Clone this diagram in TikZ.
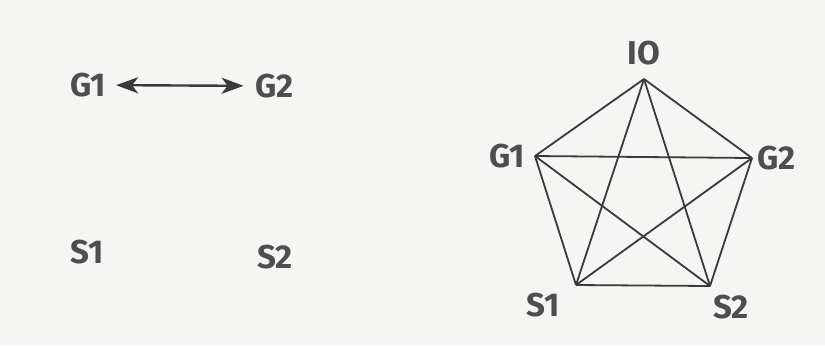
\documentclass[tikz,border=0pt]{standalone}
\usepackage{fontspec}
\setmainfont{Fira Sans}
\usetikzlibrary{positioning, arrows.meta}
\definecolor{paper}{HTML}{F5F5F3}
\definecolor{ink}{HTML}{3A3A3A}

\begin{document}
\begin{tikzpicture}[
        x=0.5pt, y=-0.5pt,
        font=\fontsize{16.5}{19}\selectfont\bfseries,
        tag/.style={inner sep=0pt, text=ink!90},
        corner/.style={inner sep=0pt, minimum size=0pt, outer sep=0pt},
        link/.style={draw=ink, line width=0.9pt},
        arrow/.style={{Stealth[length=11pt, width=8pt, inset=3pt]}-{Stealth[length=11pt, width=8pt, inset=3pt]}, draw=ink, line width=1.2pt, shorten <=5pt, shorten >=6pt}
    ]

    \fill [paper] (0,0) rectangle (825,345);

    \node (g1) [tag] at (88,85) {G1};
    \node (g2) [tag] at (275,86) {G2};
    \node (s1) [tag] at (87,252) {S1};
    \node (s2) [tag] at (275,257) {S2};

    \draw [arrow] (g1) -- (g2);

    \node (io) [corner] at (644,79) {};
    \node (rg1) [corner] at (535,156) {};
    \node (rg2) [corner] at (752,158) {};
    \node (rs1) [corner] at (576,285) {};
    \node (rs2) [corner] at (710,286) {};

    \node (iolabel) [tag, above=7pt of io] {IO};
    \node (rg1label) [tag, left=5pt of rg1] {G1};
    \node (rg2label) [tag, right=2.5pt of rg2] {G2};
    \node (rs1label) [tag, below left=4pt and 8pt of rs1] {S1};
    \node (rs2label) [tag, below right=4.5pt and 1.5pt of rs2] {S2};

    \draw [link] (io) -- (rg1);
    \draw [link] (io) -- (rg2);
    \draw [link] (io) -- (rs1);
    \draw [link] (io) -- (rs2);
    \draw [link] (rg1) -- (rg2);
    \draw [link] (rg1) -- (rs1);
    \draw [link] (rg1) -- (rs2);
    \draw [link] (rg2) -- (rs1);
    \draw [link] (rg2) -- (rs2);
    \draw [link] (rs1) -- (rs2);

\end{tikzpicture}
\end{document}
